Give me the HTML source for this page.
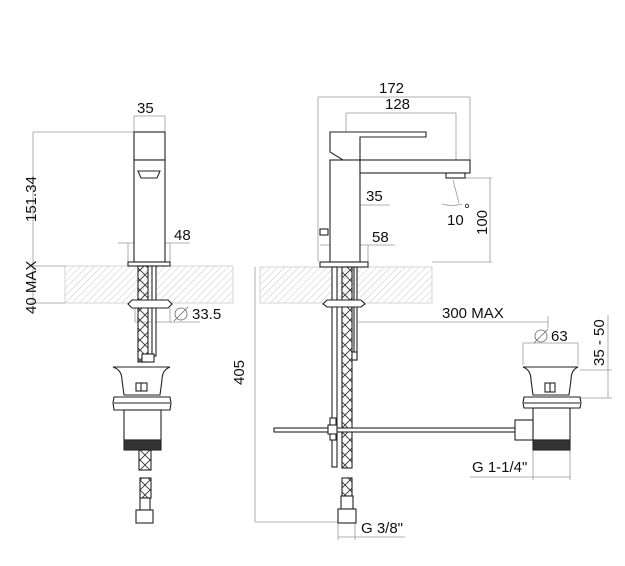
<!DOCTYPE html>
<html><head><meta charset="utf-8"><style>
html,body{margin:0;padding:0;background:#fff;}
svg{display:block}
text{font-family:"Liberation Sans",sans-serif;font-size:15px;fill:#111;}
</style></head><body>
<svg width="625" height="566" viewBox="0 0 625 566" xmlns="http://www.w3.org/2000/svg">
<defs>
<pattern id="hatch" width="5" height="5" patternUnits="userSpaceOnUse" patternTransform="rotate(45)">
<line x1="0" y1="0" x2="0" y2="5" stroke="#c8c8c8" stroke-width="1"/>
</pattern>
<pattern id="braid" width="10" height="10" patternUnits="userSpaceOnUse">
<path d="M0,0 L10,10 M10,0 L0,10" stroke="#333" stroke-width="0.9" fill="none"/>
</pattern>
</defs>
<g stroke="#999" stroke-width="0.8" fill="none">
<rect x="65" y="266" width="168" height="37" fill="url(#hatch)" stroke="#ccc"/>
<rect x="260" y="267" width="172" height="36" fill="url(#hatch)" stroke="#ccc"/>
<line x1="134" y1="116" x2="165" y2="116"/><line x1="134" y1="116" x2="134" y2="132"/><line x1="165" y1="116" x2="165" y2="132"/>
<line x1="33" y1="132" x2="134" y2="132"/><line x1="33" y1="132" x2="33" y2="303"/>
<line x1="30" y1="266" x2="65" y2="266"/><line x1="30" y1="303" x2="65" y2="303"/>
<line x1="118" y1="243" x2="190" y2="243"/><line x1="128" y1="243" x2="128" y2="262"/><line x1="170" y1="243" x2="170" y2="262"/>
<line x1="135" y1="322" x2="200" y2="322"/><line x1="135" y1="308" x2="135" y2="322"/><line x1="170" y1="308" x2="170" y2="322"/>
<line x1="318" y1="97" x2="470" y2="97"/><line x1="318" y1="97" x2="318" y2="262"/><line x1="470" y1="97" x2="470" y2="160"/>
<line x1="346" y1="113" x2="456" y2="113"/><line x1="346" y1="113" x2="346" y2="158"/><line x1="456" y1="113" x2="456" y2="178"/>
<line x1="330" y1="205" x2="390" y2="205"/>
<line x1="320" y1="245" x2="395" y2="245"/><line x1="368" y1="245" x2="368" y2="262"/>
<line x1="465" y1="178" x2="492" y2="178"/><line x1="490" y1="178" x2="490" y2="262"/><line x1="432" y1="262" x2="492" y2="262"/>
<line x1="255" y1="267" x2="255" y2="522"/>
<line x1="255" y1="522" x2="338" y2="522"/>
<line x1="358" y1="322" x2="548" y2="322"/><line x1="548" y1="316" x2="548" y2="328"/>
<line x1="523" y1="343" x2="578" y2="343"/><line x1="523" y1="343" x2="523" y2="365"/><line x1="578" y1="343" x2="578" y2="365"/>
<line x1="580" y1="370" x2="612" y2="370"/><line x1="608" y1="315" x2="608" y2="398"/><line x1="580" y1="398" x2="612" y2="398"/>
<line x1="470" y1="477" x2="570" y2="477"/><line x1="533" y1="450" x2="533" y2="480"/><line x1="570" y1="450" x2="570" y2="480"/>
<line x1="338" y1="537" x2="405" y2="537"/><line x1="338" y1="523" x2="338" y2="540"/><line x1="355" y1="523" x2="355" y2="540"/>
<line x1="453" y1="180" x2="459" y2="203"/><path d="M442,204 Q452,207 462,204"/>
</g>
<g font-size="15">
<text x="137" y="113">35</text>
<text x="174" y="240">48</text>
<text x="192" y="319">33.5</text>
<circle cx="181" cy="314" r="6" fill="none" stroke="#666" stroke-width="0.8"/><line x1="174" y1="321" x2="188" y2="307" stroke="#666" stroke-width="0.8"/>
<text transform="translate(36,222) rotate(-90)">151.34</text>
<text transform="translate(36,314) rotate(-90)">40 MAX</text>
<text x="379" y="93">172</text>
<text x="385" y="109">128</text>
<text x="366" y="201">35</text>
<text x="372" y="242">58</text>
<text x="447" y="225">10</text><text x="464" y="214" font-size="9">°</text>
<text transform="translate(487,235) rotate(-90)">100</text>
<text transform="translate(244,385) rotate(-90)">405</text>
<text x="442" y="318">300 MAX</text>
<text x="551" y="341">63</text>
<circle cx="541" cy="336" r="6" fill="none" stroke="#666" stroke-width="0.8"/><line x1="534" y1="343" x2="548" y2="329" stroke="#666" stroke-width="0.8"/>
<text transform="translate(604,366) rotate(-90)">35 - 50</text>
<text x="472" y="472">G 1-1/4"</text>
<text x="361" y="533">G 3/8"</text>
</g>
<g stroke="#222" stroke-width="1.1" fill="#fff">
<rect x="134" y="132" width="31" height="28"/>
<rect x="134" y="160" width="31" height="102"/>
<path d="M138,171 L160,171 L157,178 L141,178 Z"/>
<rect x="128" y="262" width="42" height="4"/>
<rect x="138" y="266" width="10" height="96" fill="url(#braid)"/>
<rect x="152" y="266" width="4" height="90"/>
<path d="M128,304 L132,300 L168,300 L172,304 L168,308 L132,308 Z"/>
<rect x="142" y="354" width="12" height="8"/>
<path d="M113,367 L170,367 Q162,370 162,380 L160,395 L124,395 L122,380 Q122,370 113,367 Z"/>
<rect x="136" y="383" width="11" height="8"/><line x1="141" y1="383" x2="141" y2="391"/>
<path d="M114,397 L170,397 L171,403 L170,410 L114,410 L113,403 Z"/>
<line x1="114" y1="403" x2="170" y2="403"/>
<rect x="124" y="410" width="37" height="30"/>
<rect x="124" y="440" width="37" height="10" fill="#333"/>
<rect x="139" y="450" width="12" height="20" fill="url(#braid)"/>
<rect x="140" y="478" width="11" height="20" fill="url(#braid)"/>
<rect x="140" y="498" width="10" height="12"/>
<rect x="136" y="510" width="17" height="13"/>
<path d="M330,132 L426,132 L426,137 L360,137 L360,160 L343,160 L330,152 Z"/>
<rect x="330" y="160" width="30" height="102"/>
<rect x="360" y="160" width="110" height="13"/>
<rect x="446" y="173" width="19" height="5"/>
<rect x="320" y="229" width="8" height="6"/>
<rect x="320" y="262" width="48" height="5"/>
<rect x="332" y="267" width="5" height="200"/>
<rect x="342" y="267" width="10" height="201" fill="url(#braid)"/>
<rect x="354" y="267" width="3" height="93"/>
<rect x="352" y="352" width="5" height="8"/>
<path d="M323,304 L327,300 L361,300 L365,304 L361,307 L327,307 Z"/>
<rect x="274" y="428" width="246" height="4"/>
<rect x="330" y="418" width="6" height="22"/>
<rect x="328" y="425" width="9" height="9"/>
<rect x="342" y="478" width="10" height="18" fill="url(#braid)"/>
<rect x="341" y="496" width="12" height="13"/>
<rect x="338" y="509" width="18" height="14"/>
<path d="M523,367 L578,367 Q571,370 571,380 L569,395 L533,395 L531,380 Q531,370 523,367 Z"/>
<rect x="545" y="383" width="10" height="9"/><line x1="550" y1="383" x2="550" y2="392"/>
<path d="M524,397 L580,397 L581,403 L580,408 L524,408 L523,403 Z"/>
<line x1="524" y1="403" x2="580" y2="403"/>
<rect x="533" y="408" width="37" height="32"/>
<rect x="515" y="420" width="18" height="20"/>
<rect x="533" y="440" width="37" height="10" fill="#333"/>
</g>
</svg>
</body></html>
